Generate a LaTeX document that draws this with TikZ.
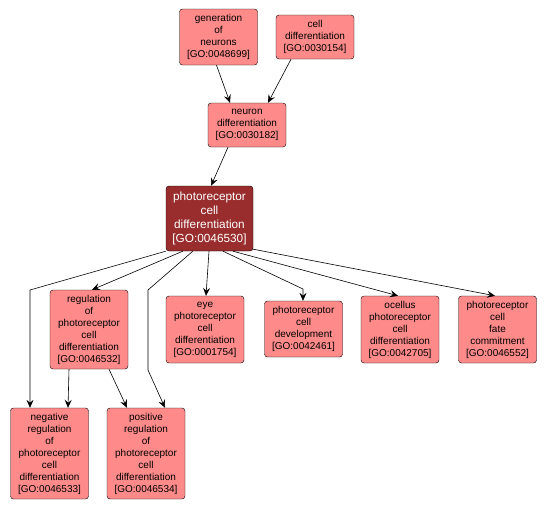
\documentclass[tikz,border=0pt]{standalone}
\usepackage{fontspec}
\setmainfont{Liberation Sans}
\usetikzlibrary{arrows.meta, positioning}

\definecolor{termfill}{RGB}{255,138,138}
\definecolor{termdark}{RGB}{153,45,45}

\begin{document}
\begin{tikzpicture}[
    x=1pt, y=-1pt,
    % Styles
    term/.style={
        draw=black, fill=termfill, rounded corners=3pt, align=center,
        minimum width=78pt, inner sep=2pt,
        font=\fontsize{10}{12}\selectfont
    },
    focus/.style={
        term, fill=termdark, text=white, minimum width=87pt,
        font=\fontsize{11.8}{14.2}\selectfont
    },
    arrow/.style={-{Stealth[length=8pt, width=7pt, inset=3pt]}, black, semithick}
]
    \useasboundingbox (0,0) rectangle (548,509);

    % --- Row 1: parents ---
    \node[term, minimum height=56pt] (gen) at (218.5,37) {generation\\of\\neurons\\{[}GO:0048699{]}};
    \node[term, minimum height=44pt] (celldiff) at (315,37) {cell\\differentiation\\{[}GO:0030154{]}};

    % --- Row 2 ---
    \node[term, minimum height=44pt] (neuron) at (247,125) {neuron\\differentiation\\{[}GO:0030182{]}};

    % --- Row 3: focus term ---
    \node[focus, minimum height=65pt] (pcd) at (209.5,218.5) {photoreceptor\\cell\\differentiation\\{[}GO:0046530{]}};

    % --- Row 4: children ---
    \node[term, minimum height=79pt] (reg) at (89,329.5) {regulation\\of\\photoreceptor\\cell\\differentiation\\{[}GO:0046532{]}};
    \node[term, minimum height=67pt] (eye) at (205,329.5) {eye\\photoreceptor\\cell\\differentiation\\{[}GO:0001754{]}};
    \node[term, minimum height=56pt] (dev) at (303.5,329) {photoreceptor\\cell\\development\\{[}GO:0042461{]}};
    \node[term, minimum height=67pt] (ocellus) at (400,329.5) {ocellus\\photoreceptor\\cell\\differentiation\\{[}GO:0042705{]}};
    \node[term, minimum height=67pt] (fate) at (497.5,329.5) {photoreceptor\\cell\\fate\\commitment\\{[}GO:0046552{]}};

    % --- Row 5: regulation terms ---
    \node[term, minimum height=91pt] (neg) at (49.5,453.5) {negative\\regulation\\of\\photoreceptor\\cell\\differentiation\\{[}GO:0046533{]}};
    \node[term, minimum height=91pt] (pos) at (146,453.5) {positive\\regulation\\of\\photoreceptor\\cell\\differentiation\\{[}GO:0046534{]}};

    % bend points
    \coordinate (negbend) at (30,290);
    \coordinate (posbend) at (148,290);
    \coordinate (posbendlow) at (148,370);
    \coordinate (devbend) at (303,289);

    % --- Connections ---
    \draw[arrow] ([xshift=-2pt]gen.south) -- ([xshift=-17pt]neuron.north);
    \draw[arrow] ([xshift=-24pt]celldiff.south) -- ([xshift=21pt]neuron.north);
    \draw[arrow] ([xshift=-19pt]neuron.south) -- ([xshift=1.5pt]pcd.north);

    \draw[arrow] ([xshift=0pt]pcd.south west) -- (negbend) -- (negbend |- neg.north);
    \draw[arrow] ([xshift=17pt]pcd.south west) -- ([xshift=3pt]reg.north);
    \draw[arrow] ([xshift=27pt]pcd.south west) -- (posbend) -- (posbendlow) -- ([xshift=19pt]pos.north);
    \draw[arrow] ([xshift=-0.5pt]pcd.south) -- ([xshift=1pt]eye.north);
    \draw[arrow] ([xshift=13.5pt]pcd.south) -- (devbend) -- (devbend |- dev.north);
    \draw[arrow] ([xshift=23.5pt]pcd.south) -- ([xshift=-2pt]ocellus.north);
    \draw[arrow] ([yshift=2pt]pcd.south east) -- ([xshift=-2.5pt]fate.north);

    \draw[arrow] ([xshift=-20pt]reg.south) -- ([xshift=18.5pt]neg.north);
    \draw[arrow] ([xshift=20pt]reg.south) -- ([xshift=-19pt]pos.north);

\end{tikzpicture}
\end{document}
